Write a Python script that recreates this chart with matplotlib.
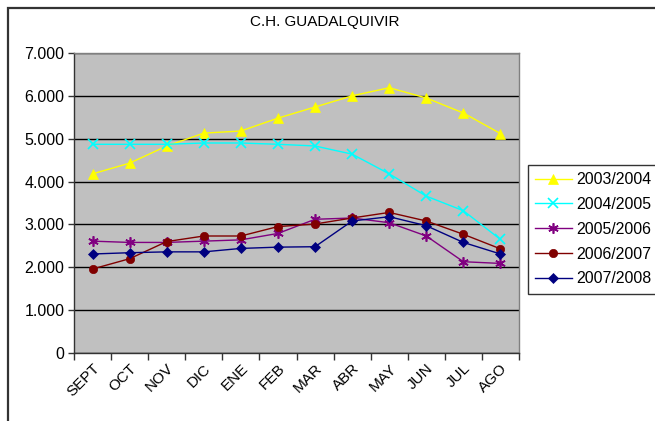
"""C.H. Guadalquivir monthly line chart."""

import matplotlib

matplotlib.use("Agg")
import matplotlib.pyplot as plt
from matplotlib.patches import Rectangle
from matplotlib.ticker import FuncFormatter, MultipleLocator

plt.rcParams["font.family"] = ["Liberation Sans", "DejaVu Sans"]

months = ["SEPT", "OCT", "NOV", "DIC", "ENE", "FEB", "MAR", "ABR", "MAY", "JUN", "JUL", "AGO"]

s_2003 = [4180, 4430, 4830, 5130, 5180, 5480, 5740, 6000, 6190, 5950, 5600, 5120]
s_2004 = [4870, 4870, 4870, 4900, 4900, 4870, 4830, 4640, 4180, 3660, 3320, 2650]
s_2005 = [2610, 2580, 2580, 2610, 2640, 2790, 3120, 3150, 3040, 2730, 2130, 2090]
s_2006 = [1960, 2200, 2600, 2730, 2730, 2950, 3010, 3150, 3280, 3080, 2770, 2430]
s_2007 = [2310, 2340, 2360, 2360, 2440, 2470, 2480, 3080, 3180, 2970, 2580, 2310]

series = [
    ("2003/2004", s_2003, "#FFFF00", "^", 7),
    ("2004/2005", s_2004, "#00FFFF", "x", 6.5),
    ("2005/2006", s_2005, "#800080", (6, 2, 0), 7.5),
    ("2006/2007", s_2006, "#800000", "o", 6),
    ("2007/2008", s_2007, "#000080", "D", 5),
]

W, H = 655, 421
fig = plt.figure(figsize=(W / 100, H / 100), dpi=100)
fig.patch.set_facecolor("white")

# outer chart frame (cropped on right and bottom)
fig.patches.append(
    Rectangle((8 / W, -0.2), 1.5, (H - 8) / H + 0.2, transform=fig.transFigure,
              fill=False, edgecolor="#333333", linewidth=1.6, clip_on=False)
)

ax = fig.add_axes([74 / W, (H - 353) / H, (519 - 74) / W, (353 - 53) / H])
ax.set_facecolor("#C0C0C0")

x = [i + 0.5 for i in range(len(months))]
for label, vals, color, marker, ms in series:
    ax.plot(x, vals, color=color, marker=marker, markersize=ms, linewidth=1,
            markeredgewidth=1.2 if marker in ("x", (6, 2, 0)) else 0.5,
            markeredgecolor=color, label=label, zorder=3)

ax.set_xlim(0, len(months))
ax.set_ylim(0, 7000)
ax.yaxis.set_major_locator(MultipleLocator(1000))
ax.yaxis.set_major_formatter(
    FuncFormatter(lambda v, _: "0" if v == 0 else f"{int(v):,}".replace(",", "."))
)
ax.grid(axis="y", color="black", linewidth=1, zorder=1)
ax.set_axisbelow(True)

ax.set_xticks(range(len(months) + 1))
ax.set_xticklabels([])
ax.set_xticks(x, minor=True)
ax.set_xticklabels(months, minor=True, rotation=45, ha="right",
                   rotation_mode="anchor", fontsize=11)
ax.tick_params(axis="x", which="minor", length=0, pad=6)
ax.tick_params(axis="x", which="major", length=5, width=1, color="#333333")
ax.tick_params(axis="y", length=4, width=1, color="#333333", labelsize=11.5, pad=3)

for side in ("left", "bottom"):
    ax.spines[side].set_color("#333333")
    ax.spines[side].set_linewidth(1)
for side in ("top", "right"):
    ax.spines[side].set_color("#808080")
    ax.spines[side].set_linewidth(1)

fig.text(325 / W, 1 - 22 / H, "C.H. GUADALQUIVIR", ha="center", va="center", fontsize=11)

leg = ax.legend(loc="upper left", bbox_to_anchor=(528 / W, (H - 165) / H),
                bbox_transform=fig.transFigure, fontsize=11.4, frameon=True,
                fancybox=False, edgecolor="black", handlelength=2.3,
                borderaxespad=0, labelspacing=0.62, handletextpad=0.3,
                borderpad=0.45)
leg.get_frame().set_linewidth(1)

fig.savefig("out.png", dpi=100)
